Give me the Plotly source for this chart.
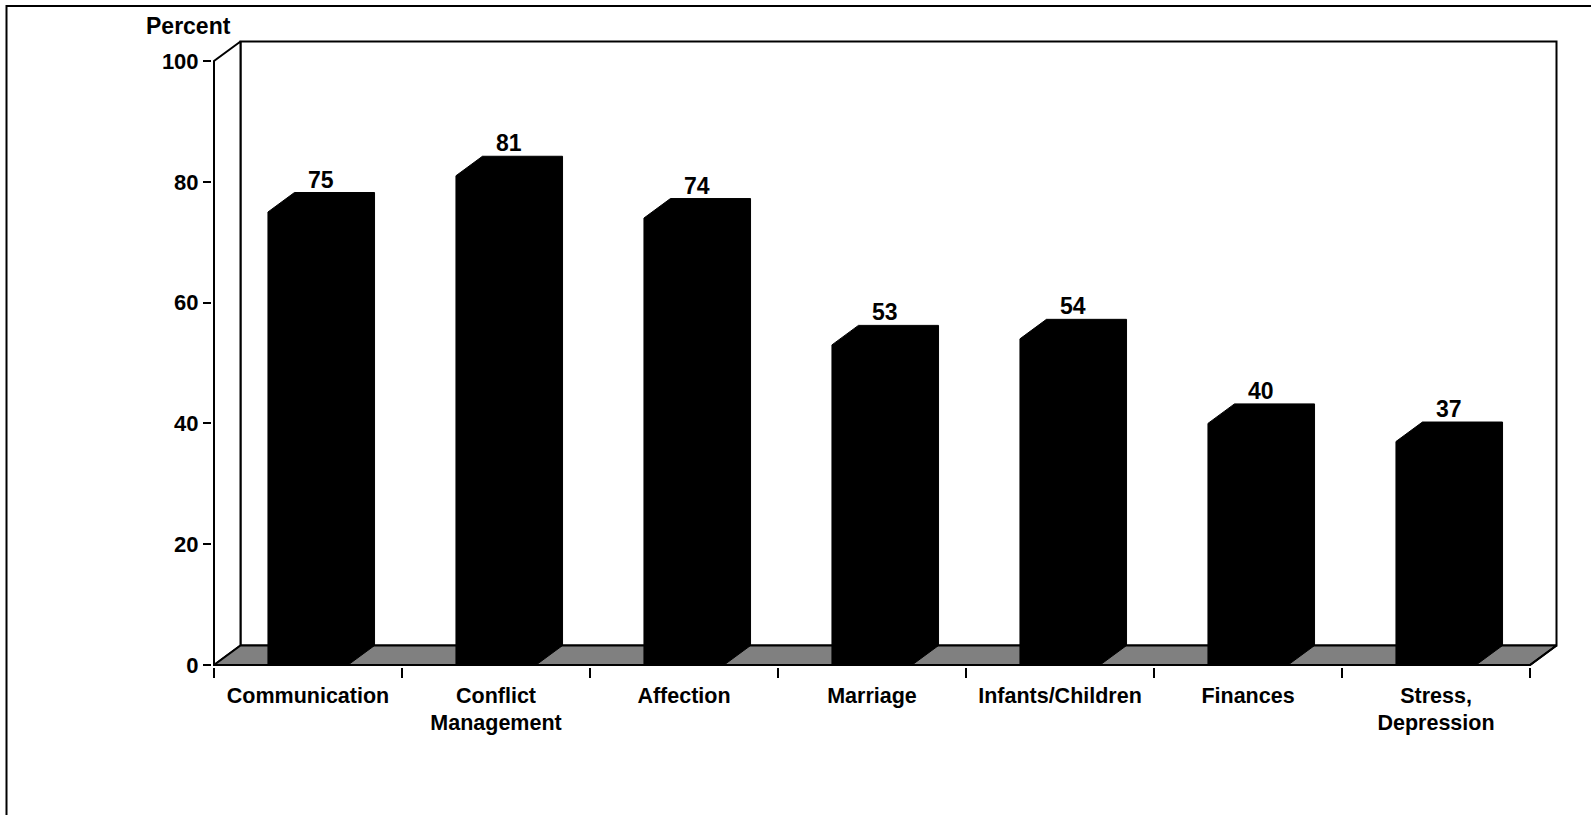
import plotly.graph_objects as go

categories = ["Communication", "Conflict<br>Management", "Affection", "Marriage",
              "Infants/Children", "Finances", "Stress,<br>Depression"]
values = [75, 81, 74, 53, 54, 40, 37]
y_ticks = [0, 20, 40, 60, 80, 100]
y_title = "Percent"

W, H = 1591, 815
# pixel frame of the plot area
L, R, T, B = 212, 1558, 40, 667
X0PX, XSTEP = 214, 188      # pixel of x=-0.5 and pixels per category
Y0PX, YSCALE = 665, 6.04    # pixel of y=0 and pixels per percent

n = len(categories)
YMAX = 100
xr = [-0.5 - (X0PX - L) / XSTEP, -0.5 + (R - X0PX) / XSTEP]
yr = [-(B - Y0PX) / YSCALE, (Y0PX - T) / YSCALE]
DX = 26.5 / XSTEP   # depth offset in x units
DY = 19.5 / YSCALE  # depth offset in y units
HW = 0.213          # half width of bar front face

FONT = "Liberation Sans, Arial, sans-serif"

fig = go.Figure()

def poly(xs, ys, fill, lw=2):
    fig.add_trace(go.Scatter(x=xs, y=ys, mode="lines", fill="toself",
                             fillcolor=fill, line=dict(color="black", width=lw),
                             hoverinfo="skip", showlegend=False))

xa, xb = -0.5, n - 0.5
# back wall
poly([xa + DX, xb + DX, xb + DX, xa + DX, xa + DX],
     [DY, DY, YMAX + DY, YMAX + DY, DY], "white")
# left wall
poly([xa, xa, xa + DX, xa + DX, xa], [0, YMAX, YMAX + DY, DY, 0], "white")
# floor
poly([xa, xb, xb + DX, xa + DX, xa], [0, 0, DY, DY, 0], "#808080")

# bars
for i, v in enumerate(values):
    c = i
    xs = [c - HW, c - HW, c - HW + DX, c + HW + DX, c + HW + DX, c + HW, c - HW]
    ys = [0, v, v + DY, v + DY, DY, 0, 0]
    poly(xs, ys, "black", lw=1)

# front axis lines
fig.add_trace(go.Scatter(x=[xa, xa, xb, xb + DX], y=[YMAX, 0, 0, DY], mode="lines",
                         line=dict(color="black", width=2), hoverinfo="skip",
                         showlegend=False))

annotations = []
for i, v in enumerate(values):
    annotations.append(dict(x=i + DX / 2, y=v + DY, xref="x", yref="y",
                            text=str(v), showarrow=False, yanchor="middle",
                            xanchor="center", yshift=13,
                            font=dict(family=FONT, size=23, color="black", weight="bold")))

pw, ph = R - L, B - T
annotations.append(dict(x=(188 - L) / pw, y=(B - 26) / ph, xref="paper", yref="paper",
                        text=y_title, showarrow=False, xanchor="center", yanchor="middle",
                        font=dict(family=FONT, size=23, color="black", weight="bold")))

shapes = [dict(type="rect", xref="paper", yref="paper",
               x0=(6.5 - L) / pw, x1=(1700 - L) / pw,
               y0=(B - 6) / ph, y1=(B - 900) / ph,
               line=dict(color="black", width=2), fillcolor="rgba(0,0,0,0)", layer="below")]

fig.update_layout(
    width=W, height=H,
    margin=dict(l=L, r=W - R, t=T, b=H - B, pad=0),
    paper_bgcolor="white", plot_bgcolor="white",
    showlegend=False,
    annotations=annotations,
    shapes=shapes,
    xaxis=dict(range=xr, showgrid=False, zeroline=False, showline=False,
               tickmode="array", tickvals=list(range(n)), ticktext=categories,
               ticks="", ticklabelstandoff=13,
               tickfont=dict(family=FONT, size=21.5, color="black", weight="bold"),
               minor=dict(tickmode="array", tickvals=[i - 0.5 for i in range(n + 1)],
                          ticks="outside", ticklen=10, tickwidth=2, tickcolor="black",
                          showgrid=False),
               fixedrange=True),
    yaxis=dict(range=yr, showgrid=False, zeroline=False, showline=False,
               tickmode="array", tickvals=y_ticks,
               ticks="outside", ticklen=8, tickwidth=2, tickcolor="black",
               tickfont=dict(family=FONT, size=22, color="black", weight="bold"),
               fixedrange=True),
)

fig.write_html("out.html")
